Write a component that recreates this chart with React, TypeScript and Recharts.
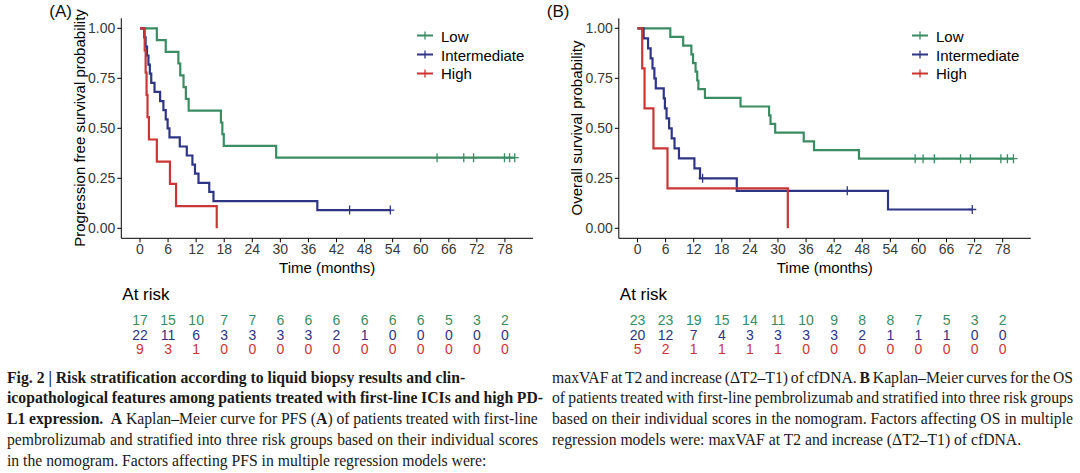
import React, { useLayoutEffect, useRef, useState } from 'react'
import { LineChart, Line, XAxis, YAxis, ScatterChart, Scatter } from 'recharts'

const GREEN = '#3b8c63'
const NAVY = '#2e3584'
const RED = '#cc3535'

const groups = ['Low', 'Intermediate', 'High']
const groupColors = [GREEN, NAVY, RED]

const monthTicks = [0, 6, 12, 18, 24, 30, 36, 42, 48, 54, 60, 66, 72, 78]
const probTicks = [0, 0.25, 0.5, 0.75, 1]

// (A) progression free survival
const pfsLowTimes = [0, 3.6, 5.5, 8.2, 8.6, 9.3, 9.8, 10.4, 17.3, 17.6, 17.9, 29.1]
const pfsLowSurv = [1, 0.941, 0.882, 0.824, 0.765, 0.706, 0.647, 0.588, 0.529, 0.471, 0.412, 0.353]
const pfsLowCensor = [63.5, 69.2, 71.3, 77.9, 79.0, 80.1]

const pfsMidTimes = [0, 0.9, 1.2, 1.5, 1.8, 2.1, 2.4, 3.1, 4.3, 5.0, 5.5, 5.9, 6.3, 8.5, 10.0, 11.2, 11.75, 12.5, 14.8, 15.7, 37.9]
const pfsMidSurv = [1, 0.955, 0.909, 0.864, 0.818, 0.773, 0.727, 0.682, 0.636, 0.591, 0.545, 0.5, 0.455, 0.409, 0.364, 0.318, 0.273, 0.227, 0.182, 0.136, 0.091]
const pfsMidCensor = [44.8, 53.5]

const pfsHighTimes = [0, 1.0, 1.2, 1.4, 1.6, 1.9, 3.6, 6.4, 7.7, 16.4]
const pfsHighSurv = [1, 0.889, 0.778, 0.667, 0.556, 0.444, 0.333, 0.222, 0.111, 0]
const pfsHighCensor: number[] = []

const pfsRiskLow = [17, 15, 10, 7, 7, 6, 6, 6, 6, 6, 6, 5, 3, 2]
const pfsRiskMid = [22, 11, 6, 3, 3, 3, 3, 2, 1, 0, 0, 0, 0, 0]
const pfsRiskHigh = [9, 3, 1, 0, 0, 0, 0, 0, 0, 0, 0, 0, 0, 0]

// (B) overall survival
const osLowTimes = [0, 7.0, 9.75, 11.5, 11.85, 12.4, 12.75, 13.0, 14.4, 22.0, 28.1, 28.4, 29.4, 35.5, 37.7, 47.3]
const osLowSurv = [1, 0.957, 0.913, 0.87, 0.826, 0.783, 0.739, 0.696, 0.652, 0.609, 0.565, 0.522, 0.478, 0.435, 0.391, 0.348]
const osLowCensor = [59.3, 61.0, 63.4, 69.0, 71.1, 77.6, 79.0, 80.3]

const osMidTimes = [0, 1.3, 2.25, 2.8, 3.2, 3.6, 3.9, 5.6, 5.85, 6.2, 6.75, 7.3, 7.9, 8.85, 12.15, 13.35, 21.2, 53.5]
const osMidSurv = [1, 0.95, 0.9, 0.85, 0.8, 0.75, 0.7, 0.65, 0.6, 0.55, 0.5, 0.45, 0.4, 0.35, 0.3, 0.25, 0.1875, 0.094]
const osMidCensor = [13.9, 44.8, 71.5]

const osHighTimes = [0, 1.0, 1.5, 3.4, 6.4, 32.1]
const osHighSurv = [1, 0.8, 0.6, 0.4, 0.2, 0]
const osHighCensor: number[] = []

const osRiskLow = [23, 23, 19, 15, 14, 11, 10, 9, 8, 8, 7, 5, 3, 2]
const osRiskMid = [20, 12, 7, 4, 3, 3, 3, 3, 2, 1, 1, 1, 0, 0]
const osRiskHigh = [5, 2, 1, 1, 1, 1, 0, 0, 0, 0, 0, 0, 0, 0]

type KMPoint = { t: number; s: number; censor?: boolean }

function kmSeries(times: number[], surv: number[], censor: number[]): KMPoint[] {
  const pts: KMPoint[] = times.map((t, i) => ({ t, s: surv[i] }))
  censor.forEach((c) => {
    let s = surv[0]
    times.forEach((t, i) => {
      if (t <= c) s = surv[i]
    })
    pts.push({ t: c, s, censor: true })
  })
  return pts.sort((a, b) => a.t - b.t)
}

function riskRows(rows: number[][]) {
  return rows.map((row, gi) => row.map((n, i) => ({ t: monthTicks[i], g: groups[gi], n })))
}

const SANS = '"Liberation Sans", Arial, Helvetica, sans-serif'
const SERIF = '"Liberation Serif", "Times New Roman", serif'

const censorDot = (color: string) => (props: any) => {
  const { cx, cy, payload, index } = props
  if (!payload || !payload.censor) return <g key={`d${index}`} />
  return (
    <path
      key={`d${index}`}
      d={`M${cx - 4},${cy}H${cx + 4}M${cx},${cy - 4.5}V${cy + 4.5}`}
      stroke={color}
      strokeWidth={1.3}
      fill="none"
    />
  )
}

type PanelProps = {
  left: number
  plotLeft: number
  plotRight: number
  tag: string
  yLabel: string
  yLabelX: number
  legendX: number
  series: KMPoint[][]
  risk: number[][]
}

function KMPanel({ left, plotLeft, plotRight, tag, yLabel, yLabelX, legendX, series, risk }: PanelProps) {
  const W = 540
  const plotW = W - plotLeft - plotRight
  const tableData = riskRows(risk)
  return (
    <div style={{ position: 'absolute', left, top: 0, width: W, height: 473 }}>
      <div style={{ position: 'absolute', left: 0, top: 0 }}>
        <LineChart
          width={W}
          height={270}
          margin={{ top: 18.3, right: plotRight, bottom: 1.7, left: plotLeft - 40 }}
        >
          <XAxis
            type="number"
            dataKey="t"
            domain={[-4, 84]}
            ticks={monthTicks}
            interval={0}
            height={30}
            tickSize={4}
            stroke="#000"
            tick={{ fill: '#3a3a3a', fontSize: 14, fontFamily: SANS }}
            allowDataOverflow
          />
          <YAxis
            type="number"
            dataKey="s"
            domain={[-0.05, 1.05]}
            ticks={probTicks}
            width={40}
            tickSize={4}
            stroke="#000"
            tickFormatter={(v: number) => v.toFixed(2)}
            tick={{ fill: '#3a3a3a', fontSize: 14, fontFamily: SANS }}
            allowDataOverflow
          />
          {series.map((data, i) => (
            <Line
              key={groups[i]}
              data={data}
              dataKey="s"
              name={groups[i]}
              type="stepAfter"
              stroke={groupColors[i]}
              strokeWidth={2.2}
              dot={censorDot(groupColors[i])}
              activeDot={false}
              isAnimationActive={false}
            />
          ))}
        </LineChart>
      </div>

      <div style={{ position: 'absolute', left: plotLeft - 72, top: 2, fontFamily: SANS, fontSize: 17, color: '#111' }}>
        {tag}
      </div>
      <div
        style={{
          position: 'absolute',
          left: yLabelX,
          top: 128.3,
          transform: 'translate(-50%, -50%) rotate(-90deg)',
          whiteSpace: 'nowrap',
          fontFamily: SANS,
          fontSize: 15,
          color: '#000',
        }}
      >
        {yLabel}
      </div>
      <div
        style={{
          position: 'absolute',
          left: plotLeft + plotW / 2,
          top: 267,
          transform: 'translate(-50%, -50%)',
          whiteSpace: 'nowrap',
          fontFamily: SANS,
          fontSize: 15,
          color: '#000',
        }}
      >
        Time (months)
      </div>

      {groups.map((g, i) => (
        <div
          key={g}
          style={{
            position: 'absolute',
            left: legendX,
            top: 35.6 + i * 18.9,
            transform: 'translateY(-50%)',
            display: 'flex',
            alignItems: 'center',
            fontFamily: SANS,
            fontSize: 15,
            color: '#000',
            whiteSpace: 'nowrap',
          }}
        >
          <svg width={16} height={12} style={{ marginRight: 8 }}>
            <path d="M0,6H16" stroke={groupColors[i]} strokeWidth={2.2} />
            <path d="M8,2V10" stroke={groupColors[i]} strokeWidth={1.3} />
          </svg>
          {g}
        </div>
      ))}

      <div
        style={{
          position: 'absolute',
          left: plotLeft + 1,
          top: 295,
          transform: 'translateY(-50%)',
          fontFamily: SANS,
          fontSize: 17,
          color: '#000',
        }}
      >
        At risk
      </div>
      <div style={{ position: 'absolute', left: 0, top: 300 }}>
        <ScatterChart
          width={W}
          height={70}
          margin={{ top: 12.75, right: plotRight, bottom: 13.75, left: plotLeft }}
        >
          <XAxis type="number" dataKey="t" domain={[-4, 84]} hide />
          <YAxis type="category" dataKey="g" hide reversed allowDuplicatedCategory={false} />
          {tableData.map((rows, i) => (
            <Scatter
              key={groups[i]}
              data={rows}
              isAnimationActive={false}
              shape={(p: any) => (
                <text
                  x={p.cx}
                  y={p.cy}
                  textAnchor="middle"
                  dominantBaseline="central"
                  fill={groupColors[i]}
                  fontSize={14}
                  fontFamily={SANS}
                >
                  {p.payload.n}
                </text>
              )}
            />
          ))}
        </ScatterChart>
      </div>
    </div>
  )
}

const LINE_H = 20.75
const CAP_TOP = 367.7

// one caption line; justified lines get their word spacing fitted to the column width
function CaptionLine({ left, row, width, justify, children }: { left: number; row: number; width: number; justify?: boolean; children: React.ReactNode }) {
  const ref = useRef<HTMLSpanElement>(null)
  const [ws, setWs] = useState(0)
  useLayoutEffect(() => {
    if (!justify || !ref.current) return
    const el = ref.current
    el.style.wordSpacing = '0px'
    const natural = el.getBoundingClientRect().width
    const spaces = (el.textContent || '').split(' ').length - 1
    if (spaces > 0) setWs((width - natural) / spaces)
  }, [justify, width])
  return (
    <div
      style={{
        position: 'absolute',
        left,
        top: CAP_TOP + row * LINE_H,
        width,
        height: LINE_H,
        lineHeight: `${LINE_H}px`,
        fontFamily: SERIF,
        fontSize: 15.7,
        color: '#1a1a1a',
        whiteSpace: 'nowrap',
      }}
    >
      <span ref={ref} style={{ wordSpacing: justify ? `${ws}px` : undefined }}>
        {children}
      </span>
    </div>
  )
}

export default function App() {
  const pfs = [
    kmSeries(pfsLowTimes, pfsLowSurv, pfsLowCensor),
    kmSeries(pfsMidTimes, pfsMidSurv, pfsMidCensor),
    kmSeries(pfsHighTimes, pfsHighSurv, pfsHighCensor),
  ]
  const os = [
    kmSeries(osLowTimes, osLowSurv, osLowCensor),
    kmSeries(osMidTimes, osMidSurv, osMidCensor),
    kmSeries(osHighTimes, osHighSurv, osHighCensor),
  ]
  return (
    <div style={{ position: 'absolute', left: 0, top: 0, width: 1080, height: 473, background: '#fff', overflow: 'hidden' }}>
      <KMPanel
        left={0}
        plotLeft={121.3}
        plotRight={7}
        tag="(A)"
        yLabel="Progression free survival probability"
        yLabelX={79}
        legendX={417}
        series={pfs}
        risk={[pfsRiskLow, pfsRiskMid, pfsRiskHigh]}
      />
      <KMPanel
        left={540}
        plotLeft={78.8}
        plotRight={49.2}
        tag="(B)"
        yLabel="Overall survival probability"
        yLabelX={35.6}
        legendX={372}
        series={os}
        risk={[osRiskLow, osRiskMid, osRiskHigh]}
      />

      <CaptionLine left={7} row={0} width={531}>
        <b>Fig. 2 | Risk stratification according to liquid biopsy results and clin-</b>
      </CaptionLine>
      <CaptionLine left={7} row={1} width={536} justify>
        <b>icopathological features among patients treated with first-line ICIs and high PD-</b>
      </CaptionLine>
      <CaptionLine left={7} row={2} width={531} justify>
        <b>L1 expression.</b>&nbsp; <b>A</b> Kaplan–Meier curve for PFS (<b>A</b>) of patients treated with first-line
      </CaptionLine>
      <CaptionLine left={7} row={3} width={531} justify>
        pembrolizumab and stratified into three risk groups based on their individual scores
      </CaptionLine>
      <CaptionLine left={7} row={4} width={531}>
        in the nomogram. Factors affecting PFS in multiple regression models were:
      </CaptionLine>

      <CaptionLine left={552} row={0} width={521} justify>
        maxVAF at T2 and increase (ΔT2–T1) of cfDNA. <b>B</b> Kaplan–Meier curves for the OS
      </CaptionLine>
      <CaptionLine left={552} row={1} width={521} justify>
        of patients treated with first-line pembrolizumab and stratified into three risk groups
      </CaptionLine>
      <CaptionLine left={552} row={2} width={521} justify>
        based on their individual scores in the nomogram. Factors affecting OS in multiple
      </CaptionLine>
      <CaptionLine left={552} row={3} width={521}>
        regression models were: maxVAF at T2 and increase (ΔT2–T1) of cfDNA.
      </CaptionLine>
    </div>
  )
}
